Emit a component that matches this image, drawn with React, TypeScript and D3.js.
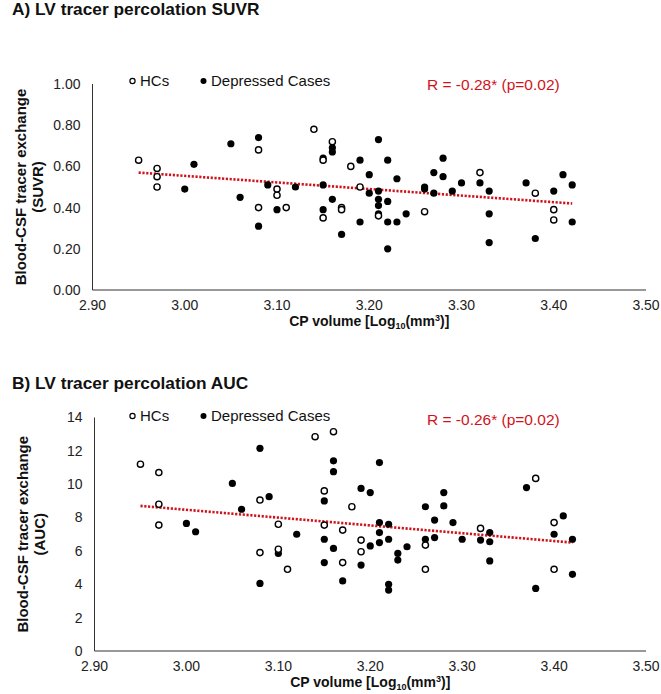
import React from "react";
import * as d3 from "d3";

// ---------- data ----------
const xTicks = [2.9, 3.0, 3.1, 3.2, 3.3, 3.4, 3.5];
const suvrTicks = [0, 0.2, 0.4, 0.6, 0.8, 1.0];
const aucTicks = [0, 2, 4, 6, 8, 10, 12, 14];

const hcSuvr: [number, number][] = [
  [2.95, 0.63], [2.97, 0.59], [2.97, 0.55], [2.97, 0.5], [3.08, 0.68], [3.08, 0.4],
  [3.1, 0.49], [3.1, 0.46], [3.11, 0.4], [3.14, 0.78], [3.15, 0.63], [3.15, 0.35],
  [3.16, 0.72], [3.17, 0.4], [3.17, 0.39], [3.18, 0.6], [3.19, 0.5], [3.21, 0.36],
  [3.26, 0.38], [3.32, 0.57], [3.38, 0.47], [3.4, 0.39], [3.4, 0.34],
];
const depSuvr: [number, number][] = [
  [3.0, 0.49], [3.01, 0.61], [3.05, 0.71], [3.06, 0.45], [3.08, 0.74], [3.08, 0.31],
  [3.09, 0.51], [3.1, 0.39], [3.12, 0.5], [3.15, 0.64], [3.15, 0.51], [3.15, 0.39],
  [3.16, 0.69], [3.16, 0.67], [3.16, 0.44], [3.17, 0.27], [3.19, 0.63], [3.19, 0.33],
  [3.2, 0.56], [3.2, 0.47], [3.21, 0.73], [3.21, 0.48], [3.21, 0.44], [3.21, 0.41],
  [3.21, 0.37], [3.22, 0.63], [3.22, 0.43], [3.22, 0.33], [3.22, 0.2], [3.23, 0.54],
  [3.23, 0.33], [3.24, 0.37], [3.26, 0.5], [3.26, 0.49], [3.27, 0.57], [3.27, 0.47],
  [3.28, 0.64], [3.28, 0.55], [3.29, 0.48], [3.3, 0.52], [3.32, 0.52], [3.33, 0.48],
  [3.33, 0.37], [3.33, 0.23], [3.37, 0.52], [3.38, 0.25], [3.4, 0.48], [3.41, 0.56],
  [3.42, 0.51], [3.42, 0.33],
];
const trendSuvr: [number, number][] = [[2.95, 0.57], [3.42, 0.42]];

const hcAuc: [number, number][] = [
  [2.95, 11.2], [2.97, 10.7], [2.97, 8.8], [2.97, 7.55], [3.08, 9.05], [3.08, 5.9],
  [3.1, 7.6], [3.1, 6.1], [3.11, 4.9], [3.14, 12.85], [3.16, 13.15], [3.15, 9.6],
  [3.15, 7.55], [3.17, 7.25], [3.17, 5.3], [3.18, 8.65], [3.19, 6.65], [3.19, 5.95],
  [3.26, 6.35], [3.26, 4.9], [3.32, 7.35], [3.38, 10.35], [3.4, 7.7], [3.4, 4.9],
];
const depAuc: [number, number][] = [
  [3.0, 7.65], [3.01, 7.15], [3.05, 10.05], [3.06, 8.5], [3.08, 12.15], [3.08, 4.05],
  [3.09, 9.25], [3.1, 5.85], [3.12, 7.0], [3.16, 11.4], [3.16, 10.75], [3.15, 9.0],
  [3.15, 6.7], [3.15, 5.3], [3.16, 6.15], [3.17, 4.2], [3.19, 9.75], [3.19, 5.15],
  [3.2, 9.5], [3.2, 6.3], [3.21, 11.3], [3.21, 7.7], [3.21, 7.1], [3.21, 6.5],
  [3.22, 7.6], [3.22, 6.7], [3.22, 4.0], [3.22, 3.65], [3.23, 5.85], [3.23, 5.45],
  [3.24, 6.25], [3.26, 8.65], [3.26, 6.7], [3.27, 7.85], [3.27, 6.8], [3.28, 9.5],
  [3.28, 8.7], [3.29, 7.7], [3.3, 6.7], [3.32, 6.65], [3.33, 7.1], [3.33, 6.55],
  [3.33, 5.4], [3.37, 9.8], [3.38, 3.75], [3.4, 7.0], [3.41, 8.1], [3.42, 6.7],
  [3.42, 4.6],
];
const trendAuc: [number, number][] = [[2.95, 8.7], [3.42, 6.5]];

const FONT = "'Liberation Sans', Arial, Helvetica, sans-serif";
const RED = "#d0131b";

type PanelProps = {
  title: string;
  yTitle2: string;
  rText: string;
  hc: [number, number][];
  dep: [number, number][];
  trend: [number, number][];
  yTicks: number[];
  yFmt: (v: number) => string;
  top: number;
  bottom: number;
  left: number;
  titleY: number;
  legendY: number;
};

function Panel(p: PanelProps) {
  const x = d3.scaleLinear().domain([2.9, 3.5]).range([p.left, 646]);
  const yMax = p.yTicks[p.yTicks.length - 1];
  const y = d3.scaleLinear().domain([0, yMax]).range([p.bottom, p.top]);
  const line = d3
    .line<[number, number]>()
    .x((d) => x(d[0]))
    .y((d) => y(d[1]));
  const legendY = p.legendY;
  const midY = (p.top + p.bottom) / 2;
  return (
    <g fontFamily={FONT}>
      <text x={12} y={p.titleY} fontSize={17.3} fontWeight="bold" fill="#111">
        {p.title}
      </text>
      {/* axes */}
      <line x1={p.left} x2={p.left} y1={p.top} y2={p.bottom} stroke="#333" strokeWidth={1} />
      <line x1={p.left} x2={646} y1={p.bottom} y2={p.bottom} stroke="#333" strokeWidth={1} />
      {p.yTicks.map((t) => (
        <text key={"y" + t} x={p.left - 12} y={y(t)} dy="0.35em" textAnchor="end" fontSize={14} fill="#222">
          {p.yFmt(t)}
        </text>
      ))}
      {xTicks.map((t) => (
        <text key={"x" + t} x={x(t)} y={p.bottom + 15} dy="0.35em" textAnchor="middle" fontSize={14} fill="#222">
          {d3.format(".2f")(t)}
        </text>
      ))}
      <text x={(p.left + 646) / 2} y={p.bottom + 36} textAnchor="middle" fontSize={14} fontWeight="bold" fill="#111">
        CP volume [Log
        <tspan fontSize={9} dy={3}>10</tspan>
        <tspan dy={-3}>(mm</tspan>
        <tspan fontSize={9} dy={-5}>3</tspan>
        <tspan dy={5}>)]</tspan>
      </text>
      <text transform={`translate(${p.left - 67},${midY}) rotate(-90)`} textAnchor="middle" fontSize={15} fontWeight="bold" fill="#111">
        Blood-CSF tracer exchange
      </text>
      <text transform={`translate(${p.left - 50},${midY}) rotate(-90)`} textAnchor="middle" fontSize={15} fontWeight="bold" fill="#111">
        {p.yTitle2}
      </text>
      {/* legend */}
      <circle cx={132.5} cy={legendY} r={2.6} fill="#fff" stroke="#000" strokeWidth={1.2} />
      <text x={140} y={legendY} dy="0.35em" fontSize={15} fill="#111">HCs</text>
      <circle cx={203.5} cy={legendY} r={3} fill="#000" />
      <text x={211} y={legendY} dy="0.35em" fontSize={15} fill="#111">Depressed Cases</text>
      <text x={427} y={legendY + 4} dy="0.35em" fontSize={15.5} fill={RED}>{p.rText}</text>
      {/* trend */}
      <path d={line(p.trend) || ""} fill="none" stroke={RED} strokeWidth={2.6} strokeDasharray="2.2,1.6" />
      {/* points */}
      {p.dep.map((d, i) => (
        <circle key={"d" + i} cx={x(d[0])} cy={y(d[1])} r={3.6} fill="#000" />
      ))}
      {p.hc.map((d, i) => (
        <circle key={"h" + i} cx={x(d[0])} cy={y(d[1])} r={3.1} fill="#fff" stroke="#000" strokeWidth={1.4} />
      ))}
    </g>
  );
}

export default function App() {
  return (
    <svg width={661} height={694} style={{ position: "absolute", left: 0, top: 0, background: "#fff" }}>
      <rect width={661} height={694} fill="#fff" />
      <Panel
        title="A) LV tracer percolation SUVR"
        yTitle2="(SUVR)"
        rText="R = -0.28* (p=0.02)"
        hc={hcSuvr}
        dep={depSuvr}
        trend={trendSuvr}
        yTicks={suvrTicks}
        yFmt={d3.format(".2f")}
        top={84}
        bottom={290}
        left={92.5}
        titleY={15}
        legendY={81}
      />
      <Panel
        title="B) LV tracer percolation AUC"
        yTitle2="(AUC)"
        rText="R = -0.26* (p=0.02)"
        hc={hcAuc}
        dep={depAuc}
        trend={trendAuc}
        yTicks={aucTicks}
        yFmt={d3.format("d")}
        top={417.5}
        bottom={651}
        left={94.5}
        titleY={389}
        legendY={416}
      />
    </svg>
  );
}
